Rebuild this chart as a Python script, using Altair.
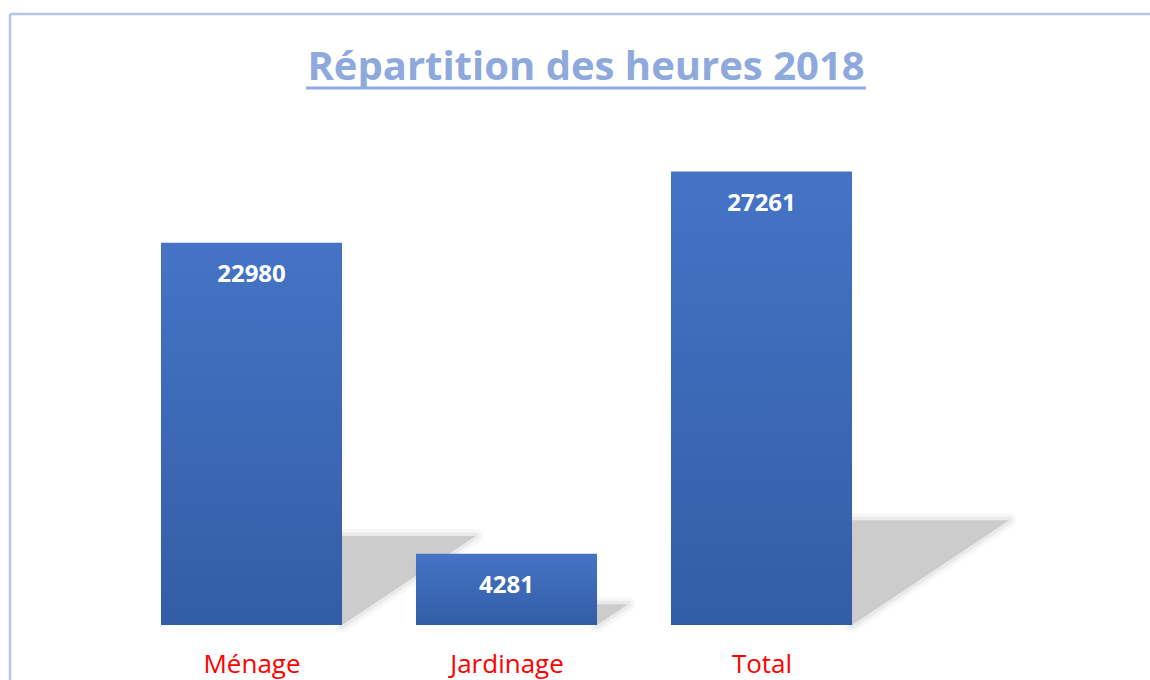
import json
import altair as alt
import pandas as pd

# ---- data ----
categories = ["Ménage", "Jardinage", "Total"]
heures = [22980, 4281, 27261]
title_text = "Répartition des heures 2018"

# ---- layout helpers (pixels) ----
PAD_L, PAD_T, PAD_R, PAD_B = 124, 126, 6, 55
W, H = 1150 - PAD_L - PAD_R, 680 - PAD_T - PAD_B
Y_MAX = 30000
X_DOM = [-0.5, 3.5]
STEP_PX = W / (X_DOM[1] - X_DOM[0])
HALF = 0.355  # half bar width in category units
px_per_y = H / Y_MAX

bars = pd.DataFrame({
    "cat": categories,
    "idx": list(range(len(categories))),
    "value": heures,
})
bars["x0"] = bars["idx"] - HALF
bars["x1"] = bars["idx"] + HALF

# perspective shadow (decoration derived from each bar's height)
rows = []
for _, r in bars.iterrows():
    h_px = r["value"] * px_per_y
    hs_px = 0.22 * h_px + 5
    dx_px = 1.5 * hs_px
    hs = hs_px / px_per_y
    dx = dx_px / STEP_PX
    rows.append({"cat": r["cat"], "x": r["x1"], "top": hs, "bot": 0})
    rows.append({"cat": r["cat"], "x": r["x1"] + dx, "top": hs, "bot": hs})
shadow = pd.DataFrame(rows)

label_expr = "%s[datum.value]" % json.dumps(categories, ensure_ascii=False)
xaxis = alt.Axis(values=list(range(len(categories))), labelExpr=label_expr,
                 domain=False, ticks=False, grid=False, title=None,
                 labelFont="Open Sans", labelFontSize=26, labelColor="#FF0000",
                 labelPadding=26)
xscale = alt.Scale(domain=X_DOM, nice=False, zero=False)
yscale = alt.Scale(domain=[0, Y_MAX], nice=False)


def shadow_area(**kw):
    return alt.Chart(shadow).mark_area(interpolate="linear", strokeJoin="round", **kw).encode(
        x=alt.X("x:Q", scale=xscale, axis=xaxis),
        y=alt.Y("top:Q", scale=yscale, axis=None),
        y2="bot:Q",
        detail="cat:N",
    )


# soft edge: wide faint strokes under a solid fill
shadow_soft1 = shadow_area(fillOpacity=0, stroke="#CCCCCC", strokeWidth=14, strokeOpacity=0.15)
shadow_soft2 = shadow_area(fillOpacity=0, stroke="#CCCCCC", strokeWidth=7, strokeOpacity=0.3)
shadow_core = shadow_area(color="#CCCCCC", strokeWidth=0)

grad = alt.Gradient(
    gradient="linear",
    stops=[alt.GradientStop(offset=0, color="#4574C6"),
           alt.GradientStop(offset=1, color="#335DA5")],
    x1=0, x2=0, y1=0, y2=1,
)

bar_layer = alt.Chart(bars).mark_bar(color=grad).encode(
    x=alt.X("x0:Q", scale=xscale, axis=xaxis),
    x2="x1:Q",
    y=alt.Y("value:Q", scale=yscale, axis=None),
    y2=alt.datum(0),
)

text_layer = alt.Chart(bars).mark_text(
    font="Open Sans", fontSize=24, fontWeight="bold", color="white",
    baseline="alphabetic", align="center", dy=39
).encode(
    x=alt.X("idx:Q", scale=xscale, axis=xaxis),
    y=alt.Y("value:Q", scale=yscale, axis=None),
    text="value:Q",
)

title_layer = alt.Chart(pd.DataFrame({"t": [title_text]})).mark_text(
    font="Open Sans", fontSize=40, fontWeight="bold", color="#8EA9DB",
    baseline="alphabetic", align="center"
).encode(
    text="t:N",
    x=alt.value(586 - PAD_L),
    y=alt.value(80 - PAD_T),
)

underline = alt.Chart(pd.DataFrame({"a": [0]})).mark_rule(
    color="#8EA9DB", strokeWidth=3
).encode(
    x=alt.value(306 - PAD_L), x2=alt.value(866 - PAD_L), y=alt.value(88 - PAD_T)
)

border_top = alt.Chart(pd.DataFrame({"a": [0]})).mark_rule(
    color="#B4C7E7", strokeWidth=2.5
).encode(
    x=alt.value(10 - PAD_L), x2=alt.value(1150 - PAD_L), y=alt.value(14 - PAD_T)
)
border_left = alt.Chart(pd.DataFrame({"a": [0]})).mark_rule(
    color="#B4C7E7", strokeWidth=2.5
).encode(
    x=alt.value(10 - PAD_L), y=alt.value(14 - PAD_T), y2=alt.value(680 - PAD_T)
)

chart = alt.layer(
    border_top, border_left, shadow_soft1, shadow_soft2, shadow_core,
    bar_layer, text_layer, title_layer, underline
).properties(
    width=W, height=H,
    autosize=alt.AutoSizeParams(type="none"),
    padding={"left": PAD_L, "top": PAD_T, "right": PAD_R, "bottom": PAD_B},
    background="white",
).configure_view(stroke=None)

chart.save("out.html", embed_options={"renderer": "svg", "actions": False})
